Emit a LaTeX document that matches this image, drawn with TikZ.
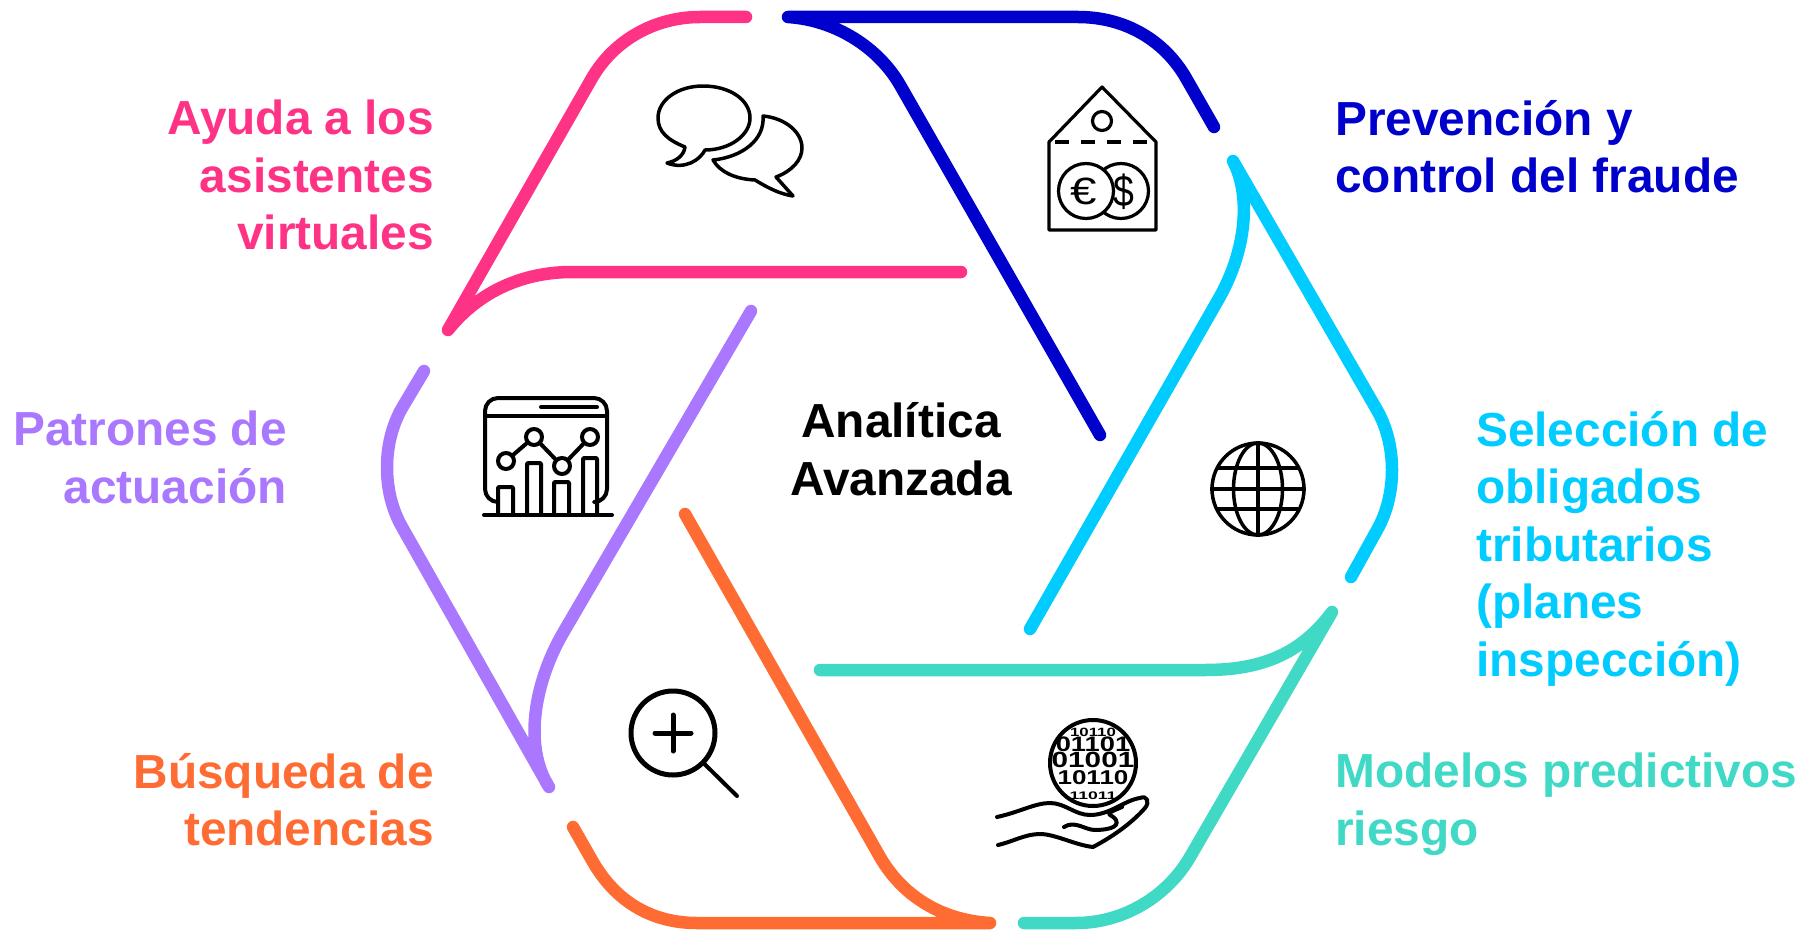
\documentclass[tikz,border=0pt]{standalone}
\usepackage{fontspec}
\usepackage{graphicx}
\setmainfont{Liberation Sans}
\usetikzlibrary{positioning}
\definecolor{ayudaPink}{HTML}{FF3385}
\definecolor{fraudeBlue}{HTML}{0000CC}
\definecolor{seleccionCyan}{HTML}{00CCFF}
\definecolor{modelosTeal}{HTML}{40D9C6}
\definecolor{busquedaOrange}{HTML}{FF6C33}
\definecolor{patronesPurple}{HTML}{AA77FF}
\newcommand{\bitrow}[3]{\scalebox{#1}[1]{\fontsize{#2}{16}\selectfont #3}}
\begin{document}
\begin{tikzpicture}
  [
    x=1pt, y=-1pt,
    Band/.style={line width=12.5pt, line cap=round, line join=round},
    Label/.style={font=\fontsize{47.8}{57.5}\selectfont\bfseries, inner sep=0pt},
    Icon/.style={draw=black, line width=4pt, line cap=round, line join=round},
    Dot/.style={circle, draw=black, fill=white, line width=4pt, minimum size=16pt, inner sep=0pt},
    Ring/.style={circle, draw=black, line width=3.5pt, inner sep=0pt}
  ]
  \useasboundingbox (0,0) rectangle (1804,934);

  % Nodes
  \node[Label, align=center] (centre) at(901, 449) {Analítica\\Avanzada};
  \node[Label, align=right, anchor=north east, text=ayudaPink] (ayuda) at(434, 100) {Ayuda a los\\asistentes\\virtuales};
  \node[Label, align=right, anchor=north east, text=patronesPurple] (patrones) at(287, 411) {Patrones de\\actuación};
  \node[Label, align=right, anchor=north east, text=busquedaOrange] (busqueda) at(434, 753) {Búsqueda de\\tendencias};
  \node[Label, align=left, anchor=north west, text=fraudeBlue] (fraude) at(1335, 100) {Prevención y\\control del fraude};
  \node[Label, align=left, anchor=north west, text=seleccionCyan] (seleccion) at(1476, 411) {Selección de\\obligados\\tributarios\\(planes\\inspección)};
  \node[Label, align=left, anchor=north west, text=modelosTeal] (modelos) at(1335, 753) {Modelos predictivos\\riesgo};

  % Lines
  \path [draw, Band, ayudaPink] (746,17) -- (700,17) .. controls (655,17) and (614,40) .. (592,78) -- (448,330) .. controls (480,290) and (525,272) .. (572,272) -- (961,272);
  \path [draw, Band, fraudeBlue] (1214,127) -- (1186,78) .. controls (1164,40) and (1125,17) .. (1078,17) -- (788,17) .. controls (835,20) and (878,47) .. (900,85) -- (1100,435);
  \path [draw, Band, seleccionCyan] (1351,577) -- (1377,530) .. controls (1397,495) and (1397,445) .. (1377,410) -- (1233,161) .. controls (1251,195) and (1247,250) .. (1218,300) -- (1030,629);
  \path [draw, Band, modelosTeal] (820,670) -- (1205,670) .. controls (1260,670) and (1300,655) .. (1332,612) -- (1190,857) .. controls (1168,895) and (1125,923) .. (1076,923) -- (1024,923);
  \path [draw, Band, busquedaOrange] (573,827) -- (593,862) .. controls (615,900) and (650,923) .. (697,923) -- (990,923) .. controls (940,920) and (902,895) .. (880,857) -- (685,514);
  \path [draw, Band, patronesPurple] (424,371) -- (402,408) .. controls (382,443) and (382,492) .. (402,527) -- (549,787) .. controls (524,748) and (533,685) .. (563,633) -- (751,311);

  % Speech bubbles
  \path [Icon, line width=3.5pt] (685,147) .. controls (668,140) and (658,132) .. (658,118) .. controls (658,100) and (678,86) .. (703,86) .. controls (730,86) and (750,100) .. (750,118) .. controls (750,135) and (730,150) .. (705,150) .. controls (700,160) and (685,170) .. (667,163) .. controls (677,161) and (684,155) .. (685,147) -- cycle;
  \path [Icon, line width=3.5pt] (763,116) .. controls (785,118) and (802,132) .. (802,148) .. controls (802,160) and (792,171) .. (776,177) -- (793,196) .. controls (780,194) and (768,188) .. (755,180) .. controls (735,179) and (720,172) .. (713,160) .. controls (742,157) and (765,140) .. (763,116) -- cycle;

  % Price tag
  \path [Icon, line width=3.2pt] (1049,142) -- (1102,87) -- (1156,142) -- (1156,230) -- (1049,230) -- cycle;
  \path [Icon, line width=3.2pt, dash pattern=on 14pt off 12pt, dash phase=-6pt, line cap=butt] (1049,142) -- (1156,142);
  \node [Ring, line width=3.2pt, minimum size=19pt] (hole) at(1102,121) {};
  \node [Ring, line width=3.2pt, minimum size=55pt] (dollar) at(1121,191) {};
  \node [Ring, fill=white, line width=3.2pt, minimum size=55pt] (euro) at(1086,191) {};
  \node [font=\fontsize{38}{38}\selectfont, inner sep=0pt, xscale=1.25] (euroSign) at(1084,191) {€};
  \node [font=\fontsize{44}{44}\selectfont, inner sep=0pt, xscale=0.85] (dollarSign) at(1124,192) {\$};

  % Chart
  \path [Icon, rounded corners=13pt] (498,502) -| (485,398) -| (607,502) -- (597,502);
  \path [Icon] (485,416) -- (607,416);
  \path [Icon] (541,407) -- (597,407);
  \path [Icon] (484,515) -- (612,515);
  \path [Icon, rounded corners=1pt] (498,515) |- (513,487) -- (513,515);
  \path [Icon, rounded corners=1pt] (527,515) |- (541,463) -- (541,515);
  \path [Icon, rounded corners=1pt] (554,515) |- (569,482) -- (569,515);
  \path [Icon, rounded corners=1pt] (583,515) |- (597,458) -- (597,515);
  \node [Dot] (dotA) at(506,461) {};
  \node [Dot] (dotB) at(534,437) {};
  \node [Dot] (dotC) at(562,466) {};
  \node [Dot] (dotD) at(590,437) {};
  \path [Icon] (dotA) -- (dotB);
  \path [Icon] (dotB) -- (dotC);
  \path [Icon] (dotC) -- (dotD);

  % Globe
  \node [Ring, minimum size=92pt] (globe) at(1258,489) {};
  \path [Icon, line width=3.5pt, line cap=butt] (globe.north) -- (globe.south);
  \path [Icon, line width=3.5pt] (globe.center) ellipse [x radius=24.5pt, y radius=46pt];
  \path [Icon, line width=3.5pt, line cap=butt] (globe.west) -- (globe.east);
  \path [Icon, line width=3.5pt, line cap=butt] (1218,468) -- (1298,468);
  \path [Icon, line width=3.5pt, line cap=butt] (1218,509) -- (1298,509);

  % Magnifier
  \node [Ring, line width=5pt, minimum size=84pt] (lens) at(673,733) {};
  \path [Icon, line width=5pt] (655,733) -- (691,733);
  \path [Icon, line width=5pt] (673,715) -- (673,751);
  \path [Icon] (lens) -- (737,796);

  % Binary sphere
  \node [Ring, line width=4pt, minimum size=86pt] (sphere) at(1093,763) {};
  \node [align=center, inner sep=0pt, font=\fontsize{16}{16}\selectfont\bfseries] (bits) at(1093,764)
    {\lineskiplimit=-100pt\relax\bitrow{1.4}{12}{10110}\\[-1pt]\bitrow{1.3}{21}{01101}\\\bitrow{1.35}{22}{01001}\\[1pt]\bitrow{1.3}{20}{10110}\\[-1pt]\bitrow{1.6}{11}{11011}};

  % Hand
  \path [Icon] (997,817) .. controls (1020,812) and (1035,803) .. (1050,803) .. controls (1065,803) and (1075,815) .. (1090,815) .. controls (1110,815) and (1125,800) .. (1140,798) .. controls (1147,795) and (1150,802) .. (1145,808) .. controls (1130,825) and (1110,838) .. (1093,847) .. controls (1075,845) and (1055,834) .. (1040,834) .. controls (1025,834) and (1012,842) .. (998,845);
  \path [Icon] (1064,827) .. controls (1075,820) and (1085,830) .. (1095,830) .. controls (1105,830) and (1120,828) .. (1116,820) .. controls (1112,813) and (1100,816) .. (1122,807);
\end{tikzpicture}
\end{document}
